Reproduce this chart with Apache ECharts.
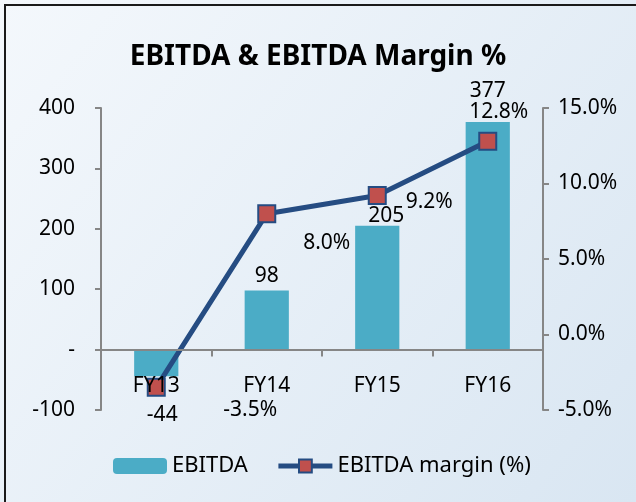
<!DOCTYPE html>
<html>
<head>
<meta charset="utf-8">
<script src="https://cdn.jsdelivr.net/npm/echarts@6/dist/echarts.min.js"></script>
<style>
  html, body { margin: 0; padding: 0; background: #fff; }
  #chart { width: 636px; height: 502px; }
</style>
</head>
<body>
<div id="chart"></div>
<script>
const years = ["FY13", "FY14", "FY15", "FY16"];
const ebitda = [-44, 98, 205, 377];
const margin = [-3.5, 8.0, 9.2, 12.8];

// hand-placed label nudges, like the original chart
const barLabelOffsets = [[6, 24], [0, 0], [9, 5], [0, -16]];
const lineLabelOffsets = [[94, 23], [60, 29], [52, 6], [11, -29]];

const font = "'Noto Sans', sans-serif";
const chart = echarts.init(document.getElementById("chart"));

chart.setOption({
  animation: false,
  backgroundColor: new echarts.graphic.LinearGradient(0, 0, 1, 1, [
    { offset: 0, color: "#f4f8fc" },
    { offset: 1, color: "#d9e6f2" },
  ]),
  textStyle: { fontFamily: font, color: "#000" },
  title: {
    text: "EBITDA & EBITDA Margin %",
    left: "center",
    top: 38,
    textStyle: { fontSize: 28, fontWeight: "bold", color: "#000", fontFamily: font },
  },
  graphic: [{
    type: "rect",
    shape: { x: 5, y: 5, width: 700, height: 600 },
    style: { fill: "none", stroke: "#1a1a1a", lineWidth: 2 },
    silent: true,
  }],
  grid: { left: 101, right: 93, top: 108, bottom: 92 },
  legend: {
    bottom: 20,
    left: 108,
    itemGap: 28,
    itemWidth: 54,
    itemHeight: 16,
    lineStyle: { width: 5 },
    textStyle: { fontSize: 22, color: "#000", fontFamily: font },
    data: ["EBITDA", "EBITDA margin (%)"],
  },
  xAxis: {
    type: "category",
    data: years,
    zlevel: 1,
    axisLine: { onZero: true, lineStyle: { color: "#868686", width: 2 } },
    axisTick: { show: true, interval: 0, length: 7, lineStyle: { color: "#868686", width: 2 } },
    axisLabel: { fontSize: 21, color: "#000", margin: -34 },
  },
  yAxis: [{
    type: "value",
    min: -100, max: 400, interval: 100,
    splitLine: { show: false },
    axisLine: { show: true, onZero: false, lineStyle: { color: "#868686", width: 2 } },
    axisTick: { show: true, length: 6, lineStyle: { color: "#868686", width: 2 } },
    axisLabel: { fontSize: 21, color: "#000", margin: 26, formatter: (v) => (v === 0 ? "-" : v) },
  }, {
    type: "value",
    min: -5, max: 15, interval: 5,
    position: "right",
    splitLine: { show: false },
    axisLine: { show: true, onZero: false, lineStyle: { color: "#868686", width: 2 } },
    axisTick: { show: true, length: 6, lineStyle: { color: "#868686", width: 2 } },
    axisLabel: { fontSize: 21, color: "#000", margin: 15, formatter: (v) => v.toFixed(1) + "%" },
  }],
  series: [{
    name: "EBITDA",
    type: "bar",
    barWidth: "40%",
    itemStyle: { color: "#4bacc6" },
    data: ebitda.map((v, i) => ({
      value: v,
      label: {
        show: true,
        position: v < 0 ? "bottom" : "top",
        distance: 4,
        offset: barLabelOffsets[i],
        fontSize: 21,
        color: "#000",
      },
    })),
    z: 1,
  }, {
    name: "EBITDA margin (%)",
    type: "line",
    yAxisIndex: 1,
    symbol: "rect",
    symbolSize: 17,
    lineStyle: { color: "#254c82", width: 5 },
    itemStyle: { color: "#c0504d", borderColor: "#254c82", borderWidth: 2 },
    data: margin.map((v, i) => ({
      value: v,
      label: {
        show: true,
        position: "inside",
        offset: lineLabelOffsets[i],
        fontSize: 21,
        color: "#000",
        formatter: (p) => p.value.toFixed(1) + "%",
      },
    })),
    z: 2,
  }],
});
</script>
</body>
</html>
